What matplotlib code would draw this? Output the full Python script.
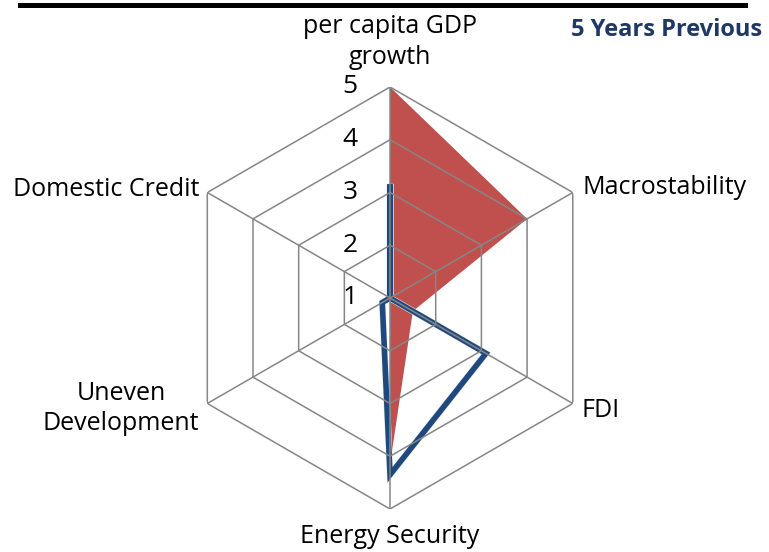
import numpy as np
import matplotlib.pyplot as plt
import matplotlib.patheffects as pe
from matplotlib.lines import Line2D

plt.rcParams['font.family'] = ['Open Sans', 'DejaVu Sans']

# --- data --- #
categories = ["per capita GDP\ngrowth", "Macrostability", "FDI",
              "Energy Security", "Uneven\nDevelopment", "Domestic Credit"]
fill_values = [5, 4, 1.5, 4.15, 1, 1]      # red area
line_values = [3.1, 1, 3.1, 4.35, 1.17, 1]  # blue line
ring_levels = [1, 2, 3, 4, 5]
# ------------ #

angles = np.arange(len(categories)) * 2 * np.pi / len(categories)
closed = np.append(angles, angles[0])

fig = plt.figure(figsize=(7.69, 5.52), dpi=100)
ax = fig.add_axes([0.2328, 0.0779, 0.5488, 0.7645], projection='polar')
ax.set_theta_zero_location('N')
ax.set_theta_direction(-1)
ax.set_ylim(ring_levels[0], ring_levels[-1])
ax.set_axis_off()

grid_kw = dict(color='#868686', lw=1.1, zorder=3)
for lv in ring_levels[1:]:
    ax.plot(closed, [lv] * len(closed), **grid_kw)
for a in angles:
    ax.plot([a, a], [ring_levels[0], ring_levels[-1]], **grid_kw)

ax.fill(closed, np.append(fill_values, fill_values[0]), color='#C0504D', lw=0, zorder=1)
ax.plot(closed, np.append(line_values, line_values[0]), color='#1F497D', lw=4.0, zorder=2,
        solid_joinstyle='miter',
        path_effects=[pe.Stroke(linewidth=4.8, foreground='#dfe6f0'), pe.Normal()])

# category labels (offsets in pixels from the outer vertex)
offsets = [(0, 45, 'center'), (10, 5, 'left'), (9, -7, 'left'),
           (0, -28, 'center'), (-8, -5, 'right'), (-8, 3, 'right')]
for a, lab, (dx, dy, ha) in zip(angles, categories, offsets):
    ax.annotate(lab, xy=(a, ring_levels[-1]), xytext=(dx, dy), textcoords='offset pixels',
                ha=ha, va='center', multialignment='center', fontsize=18, linespacing=1.3,
                annotation_clip=False)

# value labels
for lv in ring_levels:
    ax.annotate(str(lv), xy=(0, lv), xytext=(-40, 0), textcoords='offset pixels',
                ha='center', va='center', fontsize=19, annotation_clip=False)

fig.text(762 / 769, 1 - 30 / 552, "5 Years Previous", ha='right', va='center',
         fontsize=17, weight='bold', color='#1F3864')
fig.add_artist(Line2D([20 / 769, 745 / 769], [1 - 5 / 552, 1 - 5 / 552],
                      transform=fig.transFigure, color='black', lw=3.6))

fig.savefig('out.png', dpi=100)
